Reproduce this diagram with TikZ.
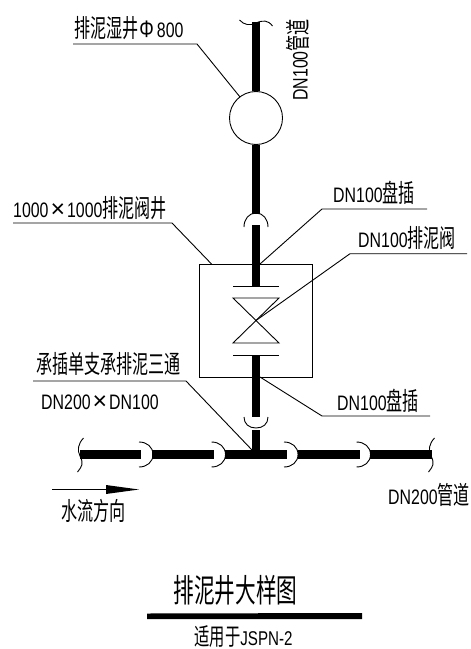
\documentclass[tikz,border=0pt]{standalone}
\usepackage{fontspec}
\setmainfont[FakeStretch=0.76]{Liberation Sans}
\newfontfamily\cjk[FakeStretch=0.64,Scale=1.2]{Noto Sans CJK SC}
\newfontfamily\plain{Liberation Sans}
\newcommand{\zh}[1]{{\cjk #1}}
\newcommand{\tms}{\hspace{2bp}{\plain\fontsize{25}{25}\selectfont ×}\hspace{2bp}}
\newcommand{\dia}{\hspace{1bp}{\fontsize{24}{24}\selectfont Φ}\hspace{3bp}}
\tikzset{
  pipe/.style={line width=8bp,black},
  mainpipe/.style={line width=9bp,black},
  thin line/.style={line width=0.9bp,black},
  lbl/.style={inner sep=0pt,anchor=west,font=\fontsize{21}{23}\selectfont},
  ttl/.style={inner sep=0pt,font=\fontsize{27}{29}\selectfont},
  sub/.style={inner sep=0pt,font=\fontsize{20}{22}\selectfont},
}
\begin{document}
\begin{tikzpicture}[x=1bp,y=-1bp]
\useasboundingbox (0,0) rectangle (471,649);
% pipes
\node[draw,thin line,circle,minimum size=53bp,inner sep=0pt] (wet) at (256,118) {};
\node[draw,thin line,rectangle,minimum width=113bp,minimum height=113bp,inner sep=0pt] (vbox) at (256,320.5) {};
\coordinate (ptop) at (256,22);
\coordinate (a1) at (256,214);
\coordinate (a2) at (256,225);
\coordinate (f1) at (256,286);
\coordinate (f2) at (256,355);
\coordinate (a3) at (256,417);
\coordinate (a4) at (256,430);
\coordinate (tee) at (256,452);
\draw[pipe] (ptop) -- (wet.north);
\draw[pipe] (wet.south) -- (a1);
\draw[pipe] (a2) -- (f1);
\draw[pipe] (f2) -- (a3);
\draw[pipe] (a4) -- (tee);
\foreach \a/\b in {80/141,152/214,225/287,298/359.5,370/432}
  \draw[mainpipe] (\a,454.5) -- (\b,454.5);
% sockets
\foreach \x in {153,225.5,298,370.5}
  \draw[thin line] (\x-14,442) .. controls (\x-6,442) and (\x,447) .. (\x,454.5)
     .. controls (\x,462) and (\x-6,467) .. (\x-14,467);
\draw[thin line] (244,227) .. controls (244,219) and (249,213) .. (256,213) .. controls (263,213) and (268,219) .. (268,227);
\draw[thin line] (244,417) .. controls (244,424) and (249,428) .. (256,428) .. controls (263,428) and (268,424) .. (268,417);
% break marks
\foreach \x in {0,351}
  \draw[thin line] (\x+83.5,438) .. controls (\x+78,444) and (\x+77,450) .. (\x+80,456)
     .. controls (\x+84,464) and (\x+82,466) .. (\x+77.5,472);
\draw[thin line] (239.5,20) .. controls (244,25) and (250,26) .. (256,23) .. controls (263,20) and (268,20) .. (272.5,26);
% flanges and valve
\draw[thin line] (233,286) -- (279,286);
\draw[thin line] (233,355) -- (279,355);
\draw[thin line] (233,298) -- (279,298) -- (233,343) -- (279,343) -- cycle;
% leaders
\coordinate (l1a) at (73,44); \coordinate (l1b) at (197,44); \coordinate (l1c) at (240,97);
\draw[thin line] (l1a) -- (l1b) -- (l1c);
\coordinate (l2a) at (13,223); \coordinate (l2b) at (172,223); \coordinate (l2c) at (211.5,264);
\draw[thin line] (l2a) -- (l2b) -- (l2c);
\coordinate (l3a) at (427,209); \coordinate (l3b) at (322,209); \coordinate (l3c) at (260,264);
\draw[thin line] (l3a) -- (l3b) -- (l3c);
\coordinate (l4a) at (467,253.7); \coordinate (l4b) at (350,253.7); \coordinate (l4c) at (256,320.5);
\draw[thin line] (l4a) -- (l4b) -- (l4c);
\coordinate (l5a) at (33,381); \coordinate (l5b) at (186,381); \coordinate (l5c) at (252,450);
\draw[thin line] (l5a) -- (l5b) -- (l5c);
\coordinate (l6a) at (430,416); \coordinate (l6b) at (322,416); \coordinate (l6c) at (260,377);
\draw[thin line] (l6a) -- (l6b) -- (l6c);
% flow arrow
\coordinate (fa) at (52,489.5); \coordinate (fb) at (106,489.5); \coordinate (fc) at (139,489.5);
\draw[thin line] (fa) -- (fb);
\fill (106,485) -- (fc) -- (106,494) -- cycle;
% title bar
\fill (147,613.5) -- (362,613) -- (362,619) -- (147,619) -- cycle;
% labels
\node[lbl] (t1) at (74,28) {\zh{排泥湿井}\dia 800};
\node[lbl] (t2) at (13,208) {1000\tms 1000\zh{排泥阀井}};
\node[lbl] (t3) at (333,193) {DN100\zh{盘插}};
\node[lbl] (t4) at (358,238) {DN100\zh{排泥阀}};
\node[lbl] (t5) at (36,364) {\zh{承插单支承排泥三通}};
\node[lbl] (t6) at (41,402) {DN200\tms DN100};
\node[lbl] (t7) at (337,401) {DN100\zh{盘插}};
\node[lbl] (t8) at (61,511) {\zh{水流方向}};
\node[lbl] (t9) at (388,495) {DN200\zh{管道}};
\node[lbl,rotate=90] (t10) at (298,101) {DN100\zh{管道}};
\node[ttl] (t11) at (235.5,590) {\zh{排泥井大样图}};
\node[sub] (t12) at (243.5,637) {\zh{适用于}JSPN-2};
\end{tikzpicture}
\end{document}
